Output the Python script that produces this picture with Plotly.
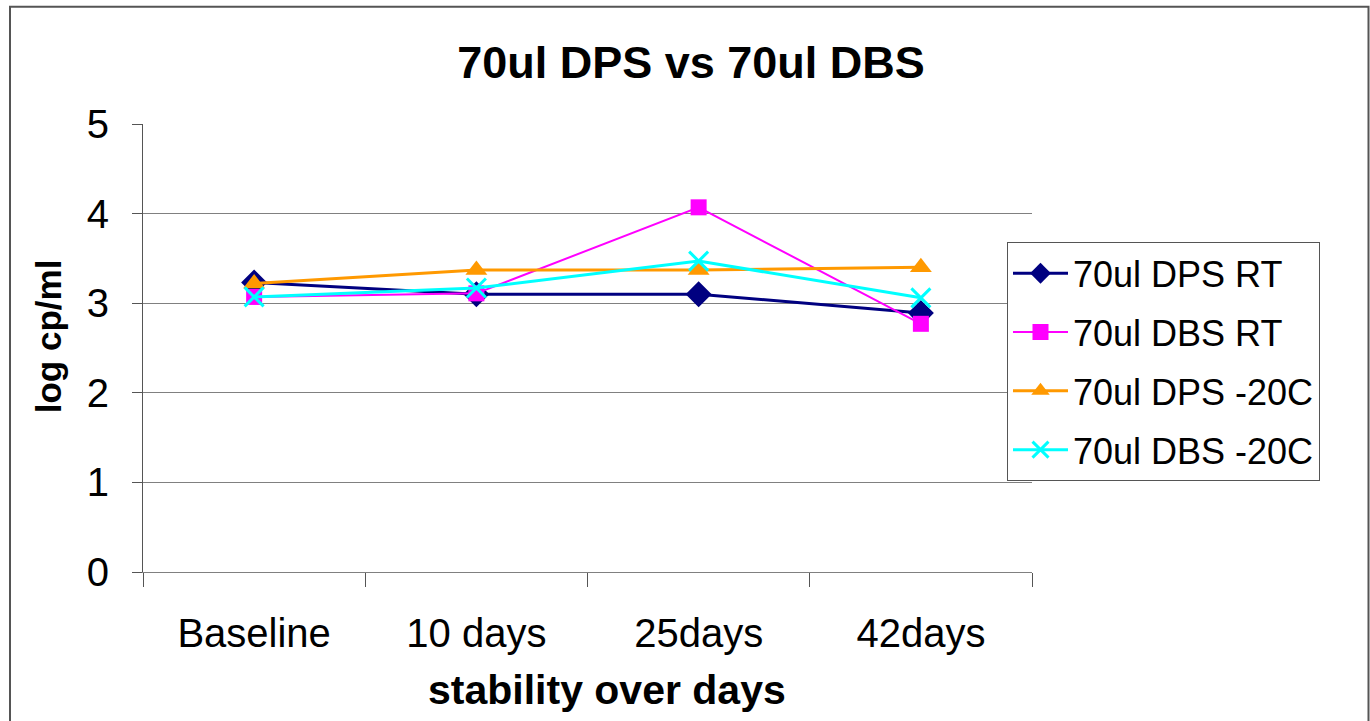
import plotly.graph_objects as go

categories = ["Baseline", "10 days", "25days", "42days"]
dps_rt = [3.23, 3.10, 3.10, 2.89]
dbs_rt = [3.07, 3.11, 4.07, 2.77]
dps_m20 = [3.22, 3.37, 3.37, 3.40]
dbs_m20 = [3.07, 3.17, 3.47, 3.06]
y_ticks = [0, 1, 2, 3, 4, 5]

FONT = "Liberation Sans, Arial, sans-serif"

series = [
    ("70ul DPS RT", dps_rt, "#000080", "diamond", 20, 3),
    ("70ul DBS RT", dbs_rt, "#FF00FF", "square", 16, 2),
    ("70ul DPS -20C", dps_m20, "#FF9900", "triangle-up", 19, 3),
    ("70ul DBS -20C", dbs_m20, "#00FFFF", "x-thin-open", 19, 3),
]

fig = go.Figure()
for i, (name, vals, col, sym, size, lw) in enumerate(series):
    marker = dict(symbol=sym, size=size, color=col)
    if sym == "x-thin-open":
        marker["line"] = dict(color=col, width=3)
    fig.add_trace(go.Scatter(
        x=categories, y=vals, name=name, mode="lines+markers",
        line=dict(color=col, width=lw), marker=marker,
        legendgroup=f"g{i}",
    ))

W, H = 1370, 721
L, T = 143, 123.5
R = W - 1032
B = H - 572
pw, ph = W - L - R, H - T - B

def px_x(p):
    return (p - L) / pw

def px_y(p):
    return (H - B - p) / ph

fig.update_layout(
    width=W, height=H,
    margin=dict(l=L, r=R, t=T, b=B, autoexpand=False),
    paper_bgcolor="white", plot_bgcolor="white",
    font=dict(family=FONT, color="black"),
    title=dict(text="<b>70ul DPS vs 70ul DBS</b>", font=dict(size=45, family=FONT),
               x=691 / W, xref="container", xanchor="center",
               y=1 - 62 / H, yref="container", yanchor="middle"),
    showlegend=True,
    legend=dict(
        x=px_x(1007), y=px_y(242), xanchor="left", yanchor="top",
        bordercolor="#555555", borderwidth=1, bgcolor="white",
        font=dict(size=36, family=FONT), tracegroupgap=9,
        traceorder="grouped", itemwidth=55,
    ),
    xaxis=dict(
        type="category", tickson="boundaries", ticks="outside", ticklen=14,
        tickcolor="#555555", showline=True, linecolor="#808080", linewidth=1,
        showgrid=False, tickfont=dict(size=40, family=FONT),
        ticklabelstandoff=26, range=[-0.5, 3.5],
    ),
    yaxis=dict(
        range=[0, 5], tickvals=y_ticks, ticks="outside", ticklen=10,
        tickcolor="#555555", showline=True, linecolor="#555555", linewidth=1,
        showgrid=True, gridcolor="#808080", gridwidth=1, zeroline=False,
        tickfont=dict(size=40, family=FONT), ticklabelstandoff=15,
    ),
    annotations=[
        dict(text="<b>stability over days</b>", x=px_x(607), y=px_y(690),
             xref="paper", yref="paper", showarrow=False,
             font=dict(size=41, family=FONT), xanchor="center", yanchor="middle"),
        dict(text="<b>log cp/ml</b>", x=px_x(48), y=px_y(336),
             xref="paper", yref="paper", showarrow=False, textangle=-90,
             font=dict(size=35, family=FONT), xanchor="center", yanchor="middle"),
    ],
    shapes=[
        dict(type="rect", xref="paper", yref="paper",
             x0=px_x(10), x1=px_x(1368.5), y0=px_y(6), y1=px_y(730),
             line=dict(color="#555555", width=2), layer="below"),
    ],
)

fig.write_html(
    "out.html",
    config={"displayModeBar": False},
    post_script="document.body.style.margin='0';document.body.style.overflow='hidden';",
)
